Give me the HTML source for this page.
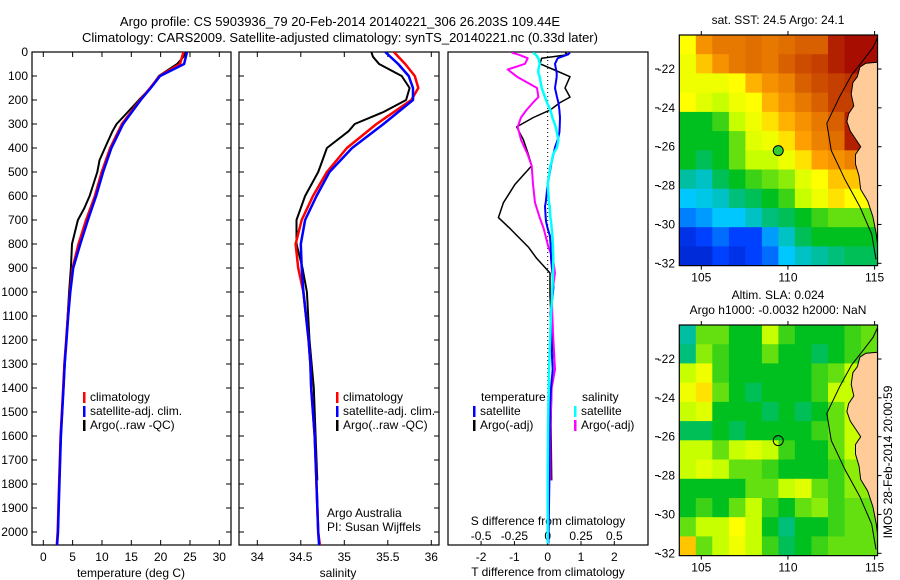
<!DOCTYPE html>
<html><head><meta charset="utf-8"><style>
body{margin:0;background:#fff}
svg{display:block;font-family:"Liberation Sans",sans-serif}
</style></head><body>
<svg id="c" width="900" height="580" viewBox="0 0 900 580" xmlns="http://www.w3.org/2000/svg">
<g id="g"></g>
</svg>
<script>
// ---- data ----
const depthClim = [0,50,100,150,200,300,400,500,600,700,800,900,1000,1100,1200,1300,1400,1600,1800,2000,2055];
const tempClim  = [23.9,23.3,19.8,18.2,16.5,13.4,11.4,9.95,8.8,7.3,6.0,5.0,4.55,4.2,3.9,3.6,3.4,2.95,2.7,2.45,2.3];
const tempSat   = [24.5,24.0,19.9,18.3,16.6,13.6,11.6,10.2,9.0,7.6,6.3,5.1,4.6,4.25,3.95,3.65,3.45,3.0,2.75,2.5,2.35];
const salClim   = [35.57,35.70,35.81,35.85,35.77,35.37,35.03,34.80,34.64,34.51,34.44,34.47,34.53,34.56,34.59,34.61,34.62,34.66,34.68,34.70,34.72];
const salSat    = [35.47,35.62,35.74,35.79,35.79,35.45,35.09,34.83,34.68,34.55,34.50,34.51,34.53,34.56,34.59,34.61,34.62,34.66,34.68,34.70,34.71];
const depthArgo = [0,20,50,100,150,200,250,300,330,400,450,500,600,650,700,800,900,1000,1200,1400,1600,1785];
const tempArgo  = [24.2,23.9,22.8,19.7,18.3,16.3,14.4,12.5,11.8,10.5,9.6,9.2,7.9,7.0,5.9,4.9,4.7,4.4,3.9,3.45,3.0,2.75];
const salArgo   = [35.31,35.33,35.40,35.66,35.75,35.71,35.45,35.12,35.05,34.80,34.75,34.70,34.55,34.50,34.45,34.45,34.52,34.57,34.60,34.65,34.67,34.69];
const depthDiff = [3,11,26,49,73,88,103,150,188,211,242,273,312,335,366,397,427,458,474,551,628,643,690,705,736,767,813,860,921,983,1014,1091,1168,1245,1323,1400,1477,1554,1785,2048];
const tDiffSat  = [0.67,0.6,0.3,0.22,0.25,0.27,0.27,0.22,0.28,0.32,0.35,0.37,0.36,0.35,0.3,0.22,0.17,0.12,0.1,0.0,-0.06,-0.08,-0.06,-0.05,0.0,0.07,0.09,0.1,0.14,0.17,0.15,0.08,0.1,0.12,0.15,0.1,0.07,0.06,0.05,0.02];
const sDiffSat  = [-0.11,-0.09,-0.07,-0.06,-0.07,-0.07,-0.06,-0.045,-0.02,-0.005,0.02,0.035,0.06,0.068,0.08,0.07,0.04,0.03,0.02,0.0,0.01,0.015,0.02,0.025,0.03,0.035,0.04,0.042,0.04,0.035,0.034,0.025,0.02,0.015,0.01,0.008,0.005,0.003,0.0,0.0];
const depthArgoDiff = [3,11,26,49,73,103,150,188,211,242,273,312,366,427,474,551,628,690,736,813,860,921,1014,1168,1323,1400,1554,1785];
const tDiffArgo = [0.52,0.62,-0.18,-0.23,0.17,0.67,0.52,0.67,0.37,0.07,-0.43,-0.93,-0.73,-0.58,-0.48,-0.98,-1.33,-1.48,-1.13,-0.58,-0.33,0.07,0.07,0.12,0.22,0.12,0.1,0.12];
const sDiffArgo = [-0.27,-0.22,-0.15,-0.17,-0.30,-0.23,-0.08,-0.07,-0.11,-0.16,-0.2,-0.225,-0.2,-0.15,-0.12,-0.11,-0.095,-0.06,-0.03,0.005,0.04,0.055,0.03,0.04,0.055,0.03,0.02,0.02];
const depthTicks = [0,100,200,300,400,500,600,700,800,900,1000,1100,1200,1300,1400,1500,1600,1700,1800,1900,2000];
const tempTicks = [0,5,10,15,20,25,30];
const salTicks = [34,34.5,35,35.5,36];
const tDiffTicks = [-2,-1,0,1,2];
const sDiffTicks = [-0.5,-0.25,0,0.25,0.5];
const sDiffTickLabels = ['-0.5','-0.25','0','0.25','0.5'];
const latTicks = [22,24,26,28,30,32];
const lonTicks = [105,110,115];
// SST grid (normalized 0..1), rows lat 20.25 -> 32.1, cols lon 103.73 -> 115.17
const sstGrid = [
[0.62,0.75,0.80,0.80,0.82,0.80,0.82,0.85,0.85,0.95,0.98,0.98],
[0.60,0.68,0.75,0.80,0.82,0.80,0.85,0.88,0.90,0.95,0.98,0.98],
[0.60,0.60,0.60,0.62,0.70,0.75,0.78,0.85,0.88,0.90,0.92,0.92],
[0.62,0.58,0.55,0.60,0.62,0.70,0.75,0.80,0.85,0.90,0.90,0.90],
[0.45,0.45,0.48,0.55,0.60,0.65,0.70,0.75,0.80,0.85,0.95,0.95],
[0.45,0.45,0.45,0.50,0.58,0.60,0.65,0.72,0.78,0.82,0.95,0.95],
[0.45,0.42,0.45,0.50,0.55,0.55,0.60,0.65,0.72,0.75,0.78,0.78],
[0.38,0.35,0.42,0.45,0.48,0.50,0.52,0.58,0.62,0.68,0.68,0.68],
[0.30,0.32,0.35,0.40,0.42,0.45,0.48,0.55,0.60,0.65,0.62,0.62],
[0.22,0.25,0.30,0.30,0.35,0.40,0.42,0.45,0.48,0.50,0.50,0.50],
[0.12,0.15,0.20,0.15,0.15,0.25,0.35,0.42,0.45,0.45,0.45,0.45],
[0.10,0.10,0.15,0.12,0.15,0.20,0.30,0.35,0.38,0.40,0.42,0.42]];
const slaGrid = [
[0.38,0.50,0.50,0.45,0.45,0.55,0.48,0.45,0.45,0.45,0.48,0.50],
[0.40,0.52,0.48,0.45,0.45,0.50,0.45,0.45,0.42,0.45,0.48,0.50],
[0.55,0.60,0.48,0.45,0.45,0.45,0.45,0.45,0.48,0.50,0.55,0.55],
[0.60,0.65,0.50,0.45,0.42,0.45,0.45,0.45,0.48,0.55,0.55,0.55],
[0.55,0.58,0.45,0.45,0.45,0.42,0.45,0.42,0.45,0.50,0.55,0.55],
[0.42,0.42,0.45,0.42,0.45,0.45,0.45,0.45,0.48,0.50,0.55,0.55],
[0.55,0.55,0.50,0.55,0.58,0.55,0.48,0.45,0.45,0.50,0.55,0.55],
[0.55,0.58,0.55,0.50,0.50,0.48,0.45,0.45,0.45,0.48,0.52,0.52],
[0.45,0.45,0.45,0.45,0.50,0.50,0.55,0.58,0.50,0.48,0.52,0.52],
[0.45,0.48,0.45,0.50,0.55,0.48,0.45,0.50,0.52,0.48,0.50,0.50],
[0.50,0.55,0.55,0.62,0.55,0.45,0.40,0.45,0.45,0.48,0.50,0.50],
[0.68,0.50,0.55,0.60,0.55,0.48,0.42,0.45,0.48,0.50,0.50,0.50]];
const landLon = [115.17,114.5,114.15,114.0,113.75,113.65,113.8,113.5,113.4,113.6,113.9,114.2,113.9,113.9,114.1,114.2,114.6,114.9,115.1,115.17];
const landLat = [21.65,21.7,21.9,22.4,22.7,23.3,23.9,24.3,24.7,25.2,25.6,26.0,26.4,26.9,27.5,28.2,28.8,29.6,30.5,31.0];
const isoLon = [115.17,114.9,114.3,113.68,113.0,112.24,112.5,113.3,114.16,114.83,115.08];
const isoLat = [20.4,20.9,21.6,22.3,23.4,24.8,26.2,27.7,29.1,30.5,31.8];
const argoLon = [109.44];
const argoLat = [26.2];

// ---- helpers ----
const NS='http://www.w3.org/2000/svg';
const G=document.getElementById('g');
function mk(tag,attrs,parent){const e=document.createElementNS(NS,tag);for(const k in attrs)e.setAttribute(k,attrs[k]);(parent||G).appendChild(e);return e;}
function txt(x,y,s,anchor,size,name,parent){const t=mk('text',{x:x,y:y,'text-anchor':anchor||'middle','font-size':size||12,fill:'#000'},parent);t.textContent=s;


return t;}
const yTop=52,yBot=545;
const yD=d=>yTop+d*0.24;
const xT=t=>43.3+t*5.867;
const xS=s=>257.3+(s-34)*87;
const xDT=t=>547.7+t*33.3;
const xDS=s=>547.7+s*133.3;
const panels=[[32,231],[239,439],[448,648]];
const lonX=l=>701.3+(l-105)*17.33;
const latY1=a=>69+(a-22)*19.43;
const latY2=a=>359+(a-22)*19.43;

// titles
txt(340,26,'Argo profile: CS 5903936_79 20-Feb-2014 20140221_306 26.203S 109.44E','middle',13,'figure-title-line1');
txt(340,42,'Climatology: CARS2009. Satellite-adjusted climatology: synTS_20140221.nc (0.33d later)','middle',13,'figure-title-line2');

// clip paths
const defs=mk('defs',{});
panels.forEach((p,i)=>{const cp=mk('clipPath',{id:'cp'+i},defs);mk('rect',{x:p[0],y:yTop,width:p[1]-p[0],height:yBot-yTop},cp);});

function line(xs,ds,fx,color,w,name,clip){
  let pts=ds.map((d,i)=>fx(xs[i]).toFixed(1)+','+yD(d).toFixed(1)).join(' ');
  const l=mk('polyline',{points:pts,fill:'none',stroke:color,'stroke-width':w,'clip-path':'url(#'+clip+')','stroke-linejoin':'round'});
  
  
}

// panel frames, depth ticks
panels.forEach((p,i)=>{
  const r=mk('rect',{x:p[0],y:yTop,width:p[1]-p[0],height:yBot-yTop,fill:'none',stroke:'#000','stroke-width':1.2});
  
  
  if(i<2){depthTicks.forEach(d=>{mk('line',{x1:p[0],x2:p[0]+5,y1:yD(d),y2:yD(d),stroke:'#000'});mk('line',{x1:p[1],x2:p[1]-5,y1:yD(d),y2:yD(d),stroke:'#000'});});}
});
depthTicks.forEach(d=>{txt(28,yD(d)+4,String(d),'end',12,'depth-tick-label');});

// panel1 temperature
tempTicks.forEach(t=>{mk('line',{x1:xT(t),x2:xT(t),y1:yBot,y2:yBot-5,stroke:'#000'});mk('line',{x1:xT(t),x2:xT(t),y1:yTop,y2:yTop+5,stroke:'#000'});txt(xT(t),561,String(t),'middle',12,'temperature-tick-label');});
txt(131,577,'temperature (deg C)','middle',12,'temperature-axis-title');
line(tempArgo,depthArgo,xT,'#000',2,'temperature-argo-line','cp0');
line(tempClim,depthClim,xT,'#f00',2.5,'temperature-climatology-line','cp0');
line(tempSat,depthClim,xT,'#00f',2.5,'temperature-satellite-line','cp0');

// panel2 salinity
salTicks.forEach(s=>{mk('line',{x1:xS(s),x2:xS(s),y1:yBot,y2:yBot-5,stroke:'#000'});mk('line',{x1:xS(s),x2:xS(s),y1:yTop,y2:yTop+5,stroke:'#000'});txt(xS(s),561,String(s),'middle',12,'salinity-tick-label');});
txt(338,577,'salinity','middle',12,'salinity-axis-title');
line(salArgo,depthArgo,xS,'#000',2,'salinity-argo-line','cp1');
line(salClim,depthClim,xS,'#f00',2.5,'salinity-climatology-line','cp1');
line(salSat,depthClim,xS,'#00f',2.5,'salinity-satellite-line','cp1');
txt(327,517,'Argo Australia','start',12,'credit-argo-australia');
txt(327,531,'PI: Susan Wijffels','start',12,'credit-pi');

// legends
function legend(x,y,color,label,name){mk('rect',{x:x,y:y-9,width:2.5,height:11,fill:color});txt(x+7,y,label,'start',12,name);}
[[83],[336]].forEach((p,i)=>{
  legend(p[0],401,'#f00','climatology','legend-climatology-'+(i+1));
  legend(p[0],415,'#00f','satellite-adj. clim.','legend-satellite-'+(i+1));
  legend(p[0],429,'#000','Argo(..raw -QC)','legend-argo-'+(i+1));
});

// panel3 differences
mk('line',{x1:xDT(0),x2:xDT(0),y1:yTop,y2:yBot,stroke:'#000','stroke-dasharray':'1,3'});
tDiffTicks.forEach(t=>{mk('line',{x1:xDT(t),x2:xDT(t),y1:yBot,y2:yBot-4,stroke:'#000'});txt(xDT(t),561,String(t),'middle',12,'t-diff-tick-label');});
sDiffTicks.forEach((s,i)=>{txt(xDS(s),540,sDiffTickLabels[i],'middle',12,'s-diff-tick-label');});
txt(548,576,'T difference from climatology','middle',12,'t-diff-axis-title');
txt(548,525,'S difference from climatology','middle',12,'s-diff-axis-title');
line(tDiffArgo,depthArgoDiff,xDT,'#000',1.5,'t-diff-argo-line','cp2');
line(sDiffArgo,depthArgoDiff,xDS,'#f0f',2,'s-diff-argo-line','cp2');
line(tDiffSat,depthDiff,xDT,'#00f',2,'t-diff-satellite-line','cp2');
line(sDiffSat,depthDiff,xDS,'#0ff',2.5,'s-diff-satellite-line','cp2');
txt(481,401,'temperature','start',12,'legend-temperature-header');
legend(473,415,'#00f','satellite','legend-t-satellite');
legend(473,429,'#000','Argo(-adj)','legend-t-argo');
txt(582,401,'salinity','start',12,'legend-salinity-header');
legend(574,415,'#0ff','satellite','legend-s-satellite');
legend(574,429,'#f0f','Argo(-adj)','legend-s-argo');

// ---- maps ----
const stops=[[0,[0,0,139]],[0.15,[0,64,255]],[0.3,[0,200,255]],[0.38,[0,190,160]],[0.45,[0,192,32]],[0.55,[200,255,0]],[0.62,[255,255,0]],[0.72,[255,160,0]],[0.85,[216,96,0]],[1,[160,0,0]]];
function cmap(v){for(let i=1;i<stops.length;i++){if(v<=stops[i][0]){const a=stops[i-1],b=stops[i],f=(v-a[0])/(b[0]-a[0]);return 'rgb('+a[1].map((c,k)=>Math.round(c+(b[1][k]-c)*f)).join(',')+')';}}return 'rgb(160,0,0)';}
const lon0=103.73,lon1=115.17,lat0=20.25,lat1=32.12;
function drawMap(grid,latY,name,title1,title2,filled){
  const top=latY(lat0),bot=latY(lat1),left=lonX(lon0),right=lonX(lon1);
  const cp=mk('clipPath',{id:'cl'+name},defs);mk('rect',{x:left,y:top,width:right-left,height:bot-top},cp);
  const mg=mk('g',{'clip-path':'url(#cl'+name+')'});
  
  
  const nr=grid.length,nc=grid[0].length,dl=(lon1-lon0)/nc,da=(lat1-lat0)/nr;
  grid.forEach((row,r)=>row.forEach((v,c)=>{
    const x=lonX(lon0+c*dl),y=latY(lat0+r*da);
    const cell=mk('rect',{x:x.toFixed(1),y:y.toFixed(1),width:(lonX(lon0+(c+1)*dl)-x+0.6).toFixed(1),height:(latY(lat0+(r+1)*da)-y+0.6).toFixed(1),fill:cmap(v)},mg);
    
    
  }));
  let lp=landLon.map((l,i)=>lonX(l).toFixed(1)+','+latY(landLat[i]).toFixed(1));
  lp.push(lonX(lon1+1)+','+latY(31.0),lonX(lon1+1)+','+latY(21.65));
  const land=mk('polygon',{points:lp.join(' '),fill:'#ffcc99',stroke:'#000','stroke-width':1},mg);
  
  
  const iso=mk('polyline',{points:isoLon.map((l,i)=>lonX(l).toFixed(1)+','+latY(isoLat[i]).toFixed(1)).join(' '),fill:'none',stroke:'#000','stroke-width':1},mg);
  
  
  const fr=mk('rect',{x:left,y:top,width:right-left,height:bot-top,fill:'none',stroke:'#000','stroke-width':1.2});
  
  
  const dot=mk('circle',{cx:lonX(argoLon[0]),cy:latY(argoLat[0]),r:5,fill:filled?'#33cc33':'none',stroke:'#000','stroke-width':1});
  
  
  latTicks.forEach(a=>{mk('line',{x1:right,x2:right+4,y1:latY(a),y2:latY(a),stroke:'#000'});mk('line',{x1:655,x2:659,y1:latY(a),y2:latY(a),stroke:'#000'});txt(675,latY(a)+4,'-'+a,'end',12,name+'-lat-label');});
  lonTicks.forEach(l=>{mk('line',{x1:lonX(l),x2:lonX(l),y1:top,y2:top-4,stroke:'#000'});mk('line',{x1:lonX(l),x2:lonX(l),y1:bot,y2:bot+4,stroke:'#000'});txt(lonX(l),bot+16,String(l),'middle',12,name+'-lon-label');});
  if(title2){txt(778,top-26,title1,'middle',12,name+'-title-1');txt(778,top-11,title2,'middle',12,name+'-title-2');}
  else txt(778,top-11,title1,'middle',12,name+'-title');
}
drawMap(sstGrid,latY1,'sst-map','sat. SST: 24.5 Argo: 24.1',null,true);
drawMap(slaGrid,latY2,'sla-map','Altim. SLA: 0.024','Argo h1000: -0.0032 h2000: NaN',false);
const v=txt(0,0,'IMOS 28-Feb-2014 20:00:59','middle',12,'timestamp-label');
v.setAttribute('transform','translate(892,462) rotate(-90)');
</script>
</body></html>
